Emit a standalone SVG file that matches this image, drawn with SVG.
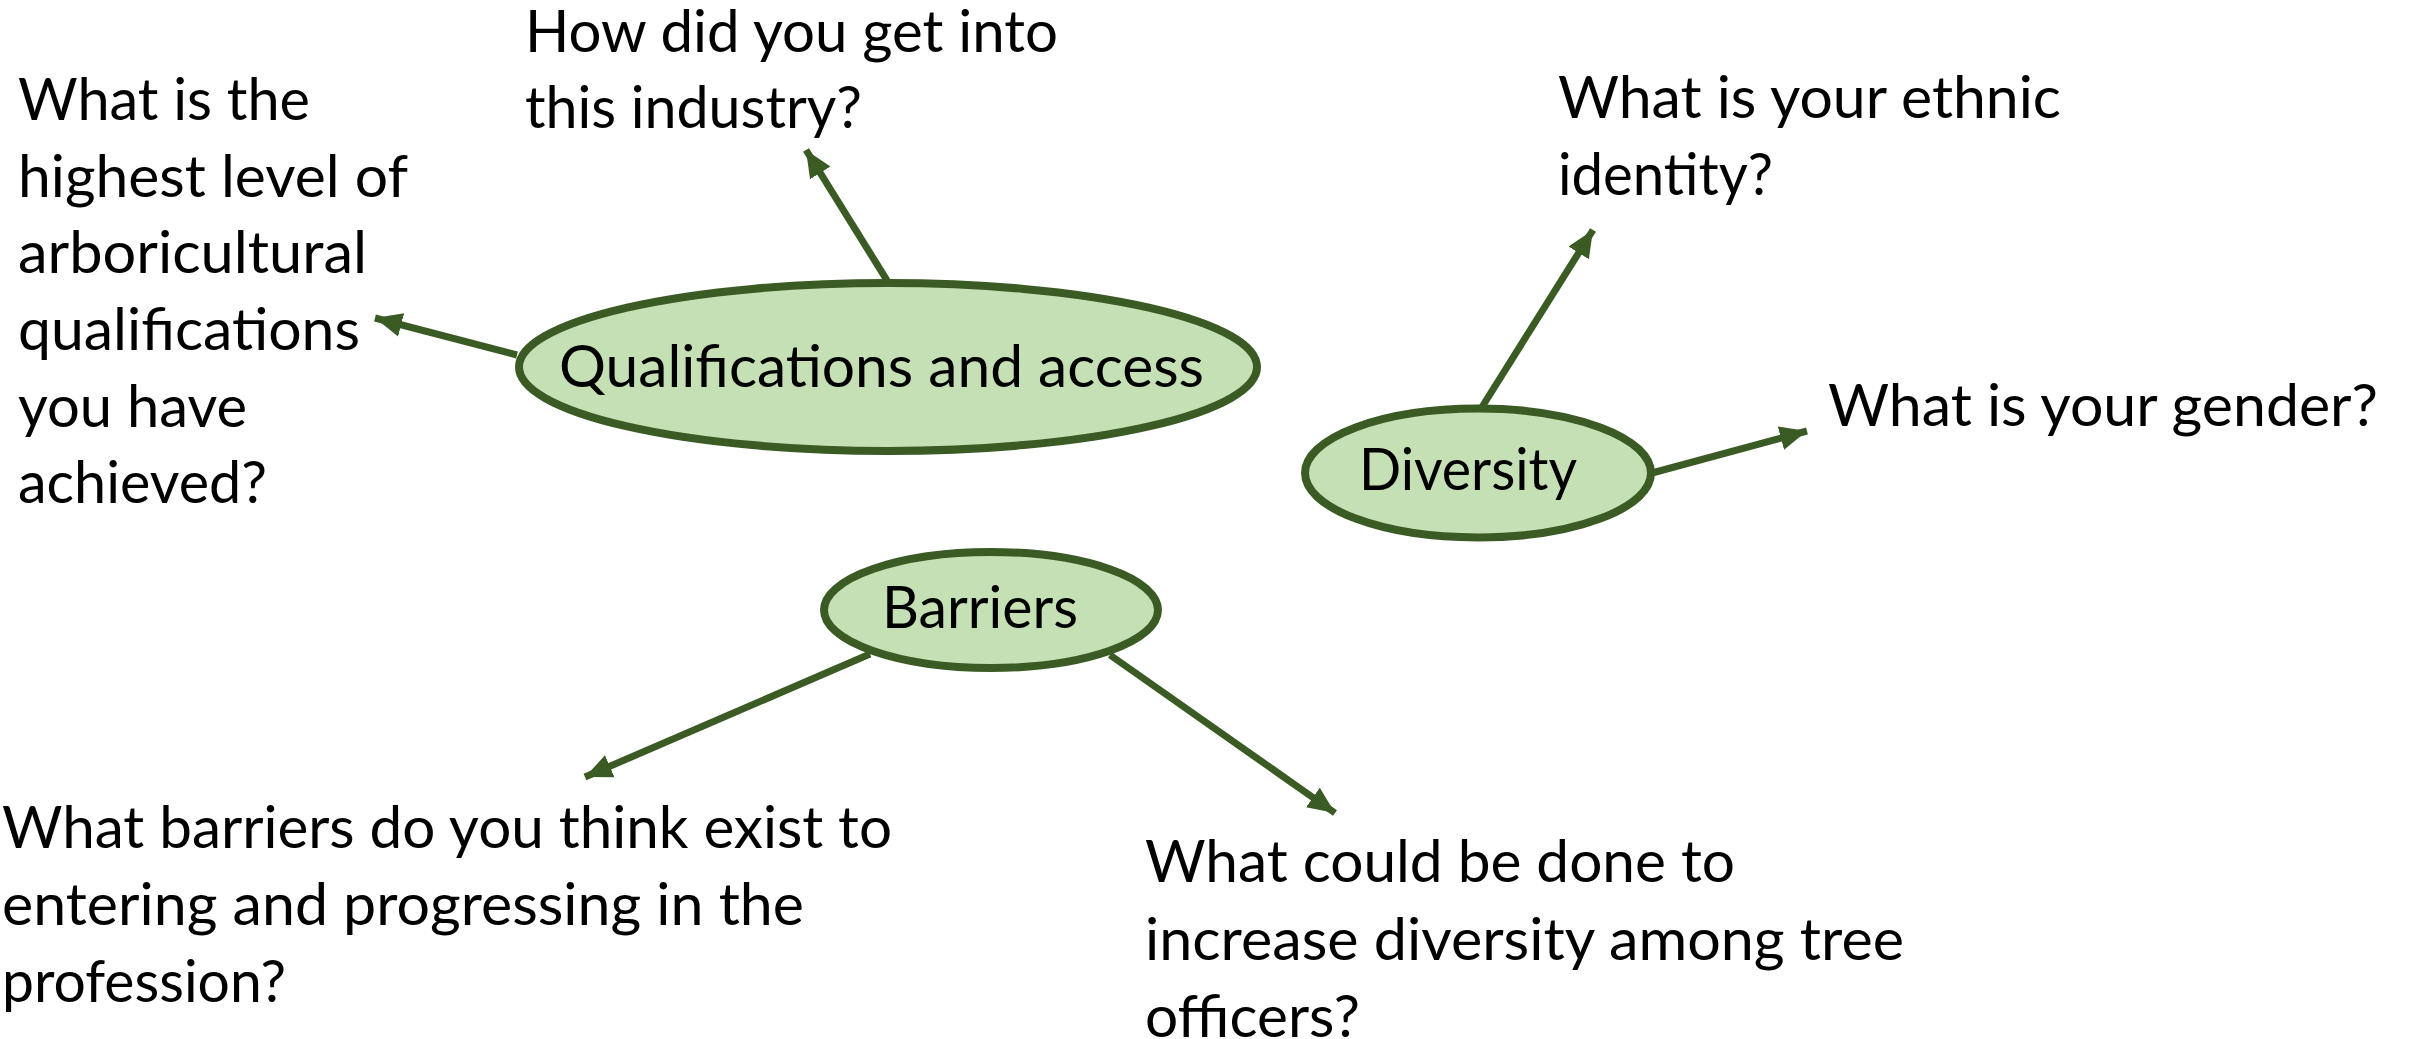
<svg xmlns="http://www.w3.org/2000/svg" width="2412" height="1039" viewBox="0 0 2412 1039">
<style>
.t{font-family:Lato,"Open Sans","Liberation Sans",sans-serif;font-size:58px;fill:#000}
.node ellipse{fill:#C5E0B4;stroke:#3B5B24;stroke-width:8}
.edge{stroke:#3B5B24;stroke-width:7;fill:none;marker-end:url(#ah)}
</style>
<defs>
<marker id="ah" markerUnits="userSpaceOnUse" markerWidth="28" markerHeight="26" refX="27" refY="13" orient="auto" viewBox="0 0 28 26">
<path d="M0,1 L27,13 L0,25 z" fill="#3B5B24"/>
</marker>
</defs>
<rect width="2412" height="1039" fill="#fff"/>
<g id="connectors">
<line class="edge" x1="517" y1="355" x2="375" y2="318"/>
<line class="edge" x1="888" y1="282" x2="806" y2="150"/>
<line class="edge" x1="1482" y1="407" x2="1593" y2="230"/>
<line class="edge" x1="1652" y1="473" x2="1807" y2="431"/>
<line class="edge" x1="870" y1="654" x2="585" y2="777"/>
<line class="edge" x1="1110" y1="655" x2="1335" y2="813"/>
</g>
<g id="node-qualifications" class="node">
<ellipse cx="888" cy="367" rx="369" ry="84"/>
<text class="t" x="559" y="387" textLength="645" lengthAdjust="spacingAndGlyphs">Qualifications and access</text>
</g>
<g id="node-diversity" class="node">
<ellipse cx="1478" cy="473" rx="173" ry="64.5"/>
<text class="t" x="1359" y="490" textLength="218" lengthAdjust="spacingAndGlyphs">Diversity</text>
</g>
<g id="node-barriers" class="node">
<ellipse cx="991" cy="610" rx="167" ry="58"/>
<text class="t" x="882" y="628" textLength="196" lengthAdjust="spacingAndGlyphs">Barriers</text>
</g>
<g id="q-highest-level">
<text class="t" x="18" y="120" textLength="292" lengthAdjust="spacingAndGlyphs">What is the</text>
<text class="t" x="18" y="197" textLength="390" lengthAdjust="spacingAndGlyphs">highest level of</text>
<text class="t" x="18" y="273" textLength="349" lengthAdjust="spacingAndGlyphs">arboricultural</text>
<text class="t" x="18" y="350" textLength="342" lengthAdjust="spacingAndGlyphs">qualifications</text>
<text class="t" x="18" y="427" textLength="229" lengthAdjust="spacingAndGlyphs">you have</text>
<text class="t" x="18" y="503" textLength="249" lengthAdjust="spacingAndGlyphs">achieved?</text>
</g>
<g id="q-industry">
<text class="t" x="525" y="52" textLength="533" lengthAdjust="spacingAndGlyphs">How did you get into</text>
<text class="t" x="525" y="128" textLength="337" lengthAdjust="spacingAndGlyphs">this industry?</text>
</g>
<g id="q-ethnic">
<text class="t" x="1558" y="118" textLength="503" lengthAdjust="spacingAndGlyphs">What is your ethnic</text>
<text class="t" x="1558" y="195" textLength="215" lengthAdjust="spacingAndGlyphs">identity?</text>
</g>
<g id="q-gender">
<text class="t" x="1828" y="426" textLength="550" lengthAdjust="spacingAndGlyphs">What is your gender?</text>
</g>
<g id="q-barriers">
<text class="t" x="2" y="848" textLength="890" lengthAdjust="spacingAndGlyphs">What barriers do you think exist to</text>
<text class="t" x="2" y="925" textLength="802" lengthAdjust="spacingAndGlyphs">entering and progressing in the</text>
<text class="t" x="2" y="1002" textLength="284" lengthAdjust="spacingAndGlyphs">profession?</text>
</g>
<g id="q-increase-diversity">
<text class="t" x="1145" y="882" textLength="590" lengthAdjust="spacingAndGlyphs">What could be done to</text>
<text class="t" x="1145" y="960" textLength="759" lengthAdjust="spacingAndGlyphs">increase diversity among tree</text>
<text class="t" x="1145" y="1037" textLength="215" lengthAdjust="spacingAndGlyphs">officers?</text>
</g>
</svg>
